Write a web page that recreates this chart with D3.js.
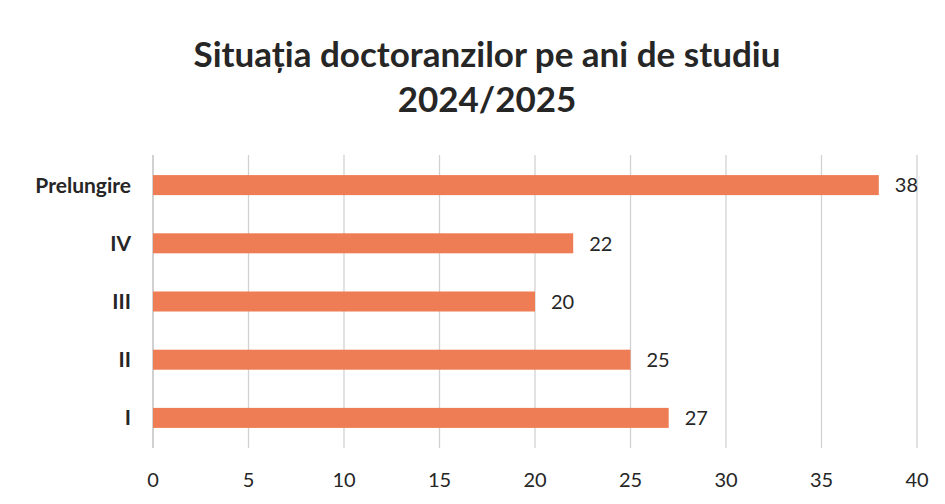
<!DOCTYPE html>
<html><head><meta charset="utf-8">
<script src="https://cdn.jsdelivr.net/npm/d3@7"></script>
<style>body{margin:0;background:#fff;} svg{display:block;}</style>
</head><body>
<script>
const categories = ["Prelungire","IV","III","II","I"];
const values = [38,22,20,25,27];
const xTicks = [0,5,10,15,20,25,30,35,40];
const titleLines = ["Situația doctoranzilor pe ani de studiu","2024/2025"];

const W=945,H=504;
const svg=d3.select("body").append("svg").attr("width",W).attr("height",H);
svg.append("rect").attr("width",W).attr("height",H).attr("fill","#fff");

const x=d3.scaleLinear().domain([0,40]).range([153,917]);
const y=d3.scaleBand().domain(categories).range([156,447]).paddingInner(0.656).paddingOuter(0.328);

const font="Lato, 'Open Sans', sans-serif";

// gridlines
svg.append("g").selectAll("line").data(xTicks).join("line")
  .attr("x1",d=>x(d)).attr("x2",d=>x(d)).attr("y1",155).attr("y2",448)
  .attr("stroke",d=>d===0?"#b8b8b8":"#d2d2d2").attr("stroke-width",1.3);

// bars
svg.append("g").selectAll("rect").data(categories).join("rect")
  .attr("x",x(0)).attr("y",d=>y(d)).attr("height",y.bandwidth())
  .attr("width",(d,i)=>x(values[i])-x(0)).attr("fill","#EE7D55");

// value labels
svg.append("g").selectAll("text").data(categories).join("text")
  .attr("x",(d,i)=>x(values[i])+16).attr("y",d=>y(d)+y.bandwidth()/2)
  .attr("dy","0.36em").attr("font-family",font).attr("font-size",20).attr("fill","#262626")
  .text((d,i)=>values[i]);

// category axis labels
svg.append("g").selectAll("text").data(categories).join("text")
  .attr("x",131).attr("y",d=>y(d)+y.bandwidth()/2).attr("dy","0.36em")
  .attr("text-anchor","end").attr("font-family",font).attr("font-size",21).attr("font-weight","bold").attr("fill","#262626")
  .text(d=>d);

// x tick labels
svg.append("g").selectAll("text").data(xTicks).join("text")
  .attr("x",d=>x(d)).attr("y",487).attr("text-anchor","middle")
  .attr("font-family",font).attr("font-size",20).attr("fill","#262626").text(d=>d);

// title
svg.append("g").selectAll("text").data(titleLines).join("text")
  .attr("x",487).attr("y",(d,i)=>67+i*45).attr("text-anchor","middle")
  .attr("font-family",font).attr("font-size",35).attr("font-weight","bold").attr("fill","#262626")
  .text(d=>d);
</script>
</body></html>
